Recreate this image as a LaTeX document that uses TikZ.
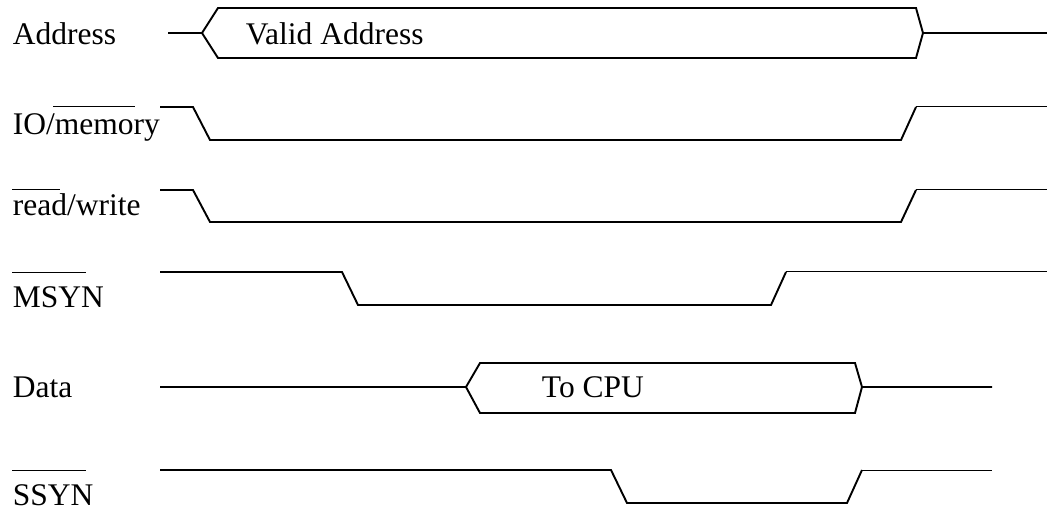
\documentclass[tikz,border=0pt]{standalone}
\usepackage{fontspec}
\setmainfont{Liberation Serif}
\usepackage{tikz}

\begin{document}
\begin{tikzpicture}[x=0.6pt,y=-0.6pt,line width=1.15pt,
  sig/.style={anchor=base west,inner sep=0pt,font=\fontsize{18.9}{20}\selectfont},
  bar/.style={line width=0.6pt}]
\useasboundingbox (0,0) rectangle (1047,513);
% signal names
\node[sig] (addr) at (12,45) {Address};
\node[sig] (iomem) at (12,135) {IO/memory};
\node[sig] (rdwr) at (12,216) {read/write};
\node[sig] (msyn) at (12,308) {MSYN};
\node[sig] (data) at (12,398) {Data};
\node[sig] (ssyn) at (12,505) {SSYN};
\draw[bar] (53,107)--(135,107);
\draw[bar] (12,190)--(60,190);
\draw[bar] (12,273)--(86,273);
\draw[bar] (12,470)--(86,470);
% address bus
\draw (168,33)--(202,33)--(218,8)--(916,8)--(923,33)--(1047,33);
\draw (202,33)--(218,58)--(916,58)--(923,33);
\node[sig] (valid) at (245,45) {Valid Address};
% control lines
\draw (160,107)--(193,107)--(210,140)--(901,140)--(916,107);
\draw[bar] (916,107)--(1047,107);
\draw (160,190)--(193,190)--(210,222)--(901,222)--(916,190);
\draw[bar] (916,190)--(1047,190);
\draw (160,272)--(342,272)--(358,305)--(771,305)--(786,272);
\draw[bar] (786,272)--(1047,272);
% data bus
\draw (160,387)--(466,387)--(480,363)--(855,363)--(862,387)--(992,387);
\draw (466,387)--(480,413)--(855,413)--(862,387);
\node[sig] (tocpu) at (541,398) {To CPU};
\draw (160,470)--(611,470)--(627,503)--(847,503)--(862,470);
\draw[bar] (862,470)--(992,470);
\end{tikzpicture}
\end{document}
